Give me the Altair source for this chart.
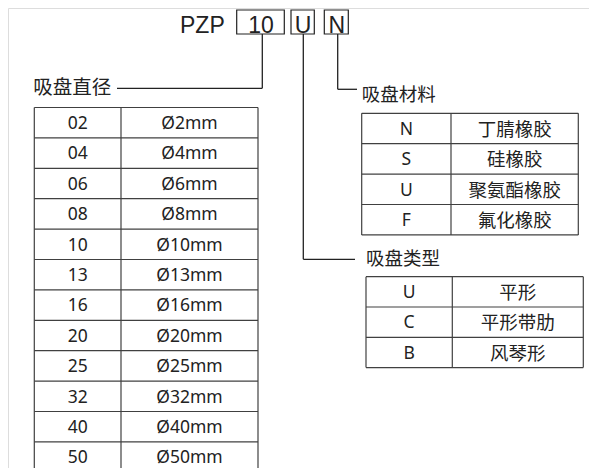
import altair as alt
import pandas as pd

# ---------------- data ----------------
code_prefix = "PZP"
code_parts = ["10", "U", "N"]

label_names = ["吸盘直径", "吸盘材料", "吸盘类型"]

diam_codes = ["02", "04", "06", "08", "10", "13", "16", "20", "25", "32", "40", "50"]
diam_sizes = ["Ø2mm", "Ø4mm", "Ø6mm", "Ø8mm", "Ø10mm", "Ø13mm", "Ø16mm",
              "Ø20mm", "Ø25mm", "Ø32mm", "Ø40mm", "Ø50mm"]

mat_codes = ["N", "S", "U", "F"]
mat_names = ["丁腈橡胶", "硅橡胶", "聚氨酯橡胶", "氟化橡胶"]

type_codes = ["U", "C", "B"]
type_names = ["平形", "平形带肋", "风琴形"]

# ---------------- layout (page pixel coordinates) ----------------
W, H = 581, 460
OX, OY = 8, 8
INK = "#222222"
GRID = "#404040"

box_x = [(236.7, 284.3), (291.0, 314.3), (324.3, 348.3)]
box_y = (10.0, 34.0)
title_x = 180.0
title_base = 32.5

# connector: stem x, elbow y, horizontal end x
conn = [(262.3, 88.3, 117.0), (337.7, 89.3, 357.0), (303.3, 259.3, 355.0)]
label_pos = [(33.3, 88.3, 19.5), (361.7, 95.0, 18.5), (366.0, 259.3, 18.5)]

tables = [
    dict(codes=diam_codes, names=diam_sizes, x0=34.3, xm=121.0, x1=258.0,
         top=107.5, rh=30.4, bottom=468.0),
    dict(codes=mat_codes, names=mat_names, x0=361.7, xm=451.0, x1=578.3,
         top=113.3, rh=30.4, bottom=None),
    dict(codes=type_codes, names=type_names, x0=366.0, xm=452.3, x1=583.3,
         top=276.7, rh=30.3, bottom=None),
]

# ---------------- build tables ----------------
rules = []
lat_txt = []
cjk_txt = []

for (sx, ey, hx) in conn:
    rules.append(dict(x=sx, y=box_y[1], x2=sx, y2=ey, c=INK, w=1.3))
    rules.append(dict(x=min(sx, hx), y=ey, x2=max(sx, hx), y2=ey, c=INK, w=1.3))

for t in tables:
    n = len(t["codes"])
    bot = t["top"] + n * t["rh"]
    vb = t["bottom"] if t["bottom"] is not None else bot
    for i in range(n + 1):
        yy = t["top"] + i * t["rh"]
        if yy <= OY + H:
            rules.append(dict(x=t["x0"], y=yy, x2=t["x1"], y2=yy, c=GRID, w=1.2))
    for xx in (t["x0"], t["xm"], t["x1"]):
        rules.append(dict(x=xx, y=t["top"], x2=xx, y2=vb, c=GRID, w=1.2))
    c1 = (t["x0"] + t["xm"]) / 2
    c2 = (t["xm"] + t["x1"]) / 2
    for i, (cd, nm) in enumerate(zip(t["codes"], t["names"])):
        yc = t["top"] + (i + 0.5) * t["rh"] + 1.2
        lat_txt.append(dict(x=c1, y=yc, t=cd, s=17.5))
        if any(ord(ch) > 0x2E80 for ch in nm):
            cjk_txt.append(dict(x=c2, y=yc, t=nm, s=18.5))
        else:
            lat_txt.append(dict(x=c2, y=yc, t=nm, s=17.5))

rules_df = pd.DataFrame(rules)
lat_df = pd.DataFrame(lat_txt)
cjk_df = pd.DataFrame(cjk_txt)
labels_df = pd.DataFrame([dict(x=p[0], y=p[1], t=nm, s=p[2])
                          for nm, p in zip(label_names, label_pos)])
boxes_df = pd.DataFrame([dict(x=bx[0], x2=bx[1], y=box_y[0], y2=box_y[1])
                         for bx in box_x])
box_txt_df = pd.DataFrame([dict(x=(bx[0] + bx[1]) / 2 + 0.5, y=title_base, t=p)
                           for bx, p in zip(box_x, code_parts)])
title_df = pd.DataFrame([dict(x=title_x, y=title_base, t=code_prefix)])

xs = alt.Scale(domain=[OX, OX + W], nice=False, zero=False)
ys = alt.Scale(domain=[OY, OY + H], nice=False, zero=False, reverse=True)
X = alt.X("x:Q", scale=xs, axis=None)
Y = alt.Y("y:Q", scale=ys, axis=None)

rule_layer = alt.Chart(rules_df).mark_rule().encode(
    x=X, y=Y, x2="x2:Q", y2="y2:Q",
    color=alt.Color("c:N", scale=None),
    strokeWidth=alt.StrokeWidth("w:Q", scale=None),
)

box_layer = alt.Chart(boxes_df).mark_rect(
    fill="white", fillOpacity=0, stroke=INK, strokeWidth=1.2
).encode(x=X, x2="x2:Q", y=Y, y2="y2:Q")

title_layer = alt.Chart(title_df).mark_text(
    font="Liberation Sans", fontSize=23, align="left", baseline="alphabetic", color=INK
).encode(x=X, y=Y, text="t:N")

box_txt_layer = alt.Chart(box_txt_df).mark_text(
    font="Liberation Sans", fontSize=23, align="center", baseline="alphabetic", color=INK
).encode(x=X, y=Y, text="t:N")

lat_layer = alt.Chart(lat_df).mark_text(
    font="Noto Sans", align="center", baseline="middle", color=INK
).encode(x=X, y=Y, text="t:N", size=alt.Size("s:Q", scale=None))

cjk_layer = alt.Chart(cjk_df).mark_text(
    font="Noto Sans CJK SC", align="center", baseline="middle", color=INK
).encode(x=X, y=Y, text="t:N", size=alt.Size("s:Q", scale=None))

label_layer = alt.Chart(labels_df).mark_text(
    font="Noto Sans CJK SC", align="left", baseline="middle", color=INK
).encode(x=X, y=Y, text="t:N", size=alt.Size("s:Q", scale=None))

chart = alt.layer(
    rule_layer, box_layer, title_layer, box_txt_layer, lat_layer, cjk_layer, label_layer
).properties(
    width=W, height=H, padding=0,
    autosize=alt.AutoSizeParams(type="none"),
).configure_view(stroke=None).configure(background="white")

chart.save("out.html", embed_options={"renderer": "svg", "actions": False})
